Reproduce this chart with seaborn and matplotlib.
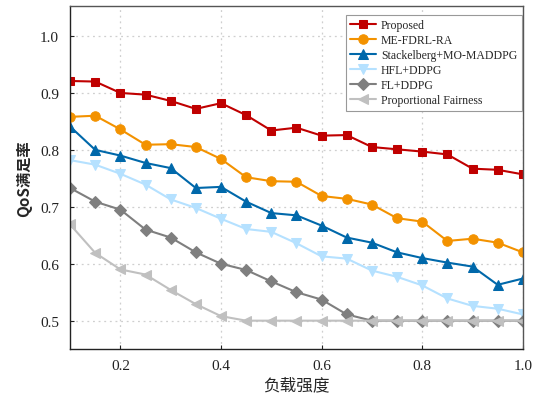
import numpy as np
import pandas as pd
import matplotlib
matplotlib.use("Agg")
import matplotlib.pyplot as plt
import seaborn as sns

load = [0.10, 0.15, 0.20, 0.25, 0.30, 0.35, 0.40, 0.45, 0.50, 0.55,
        0.60, 0.65, 0.70, 0.75, 0.80, 0.85, 0.90, 0.95, 1.00]

proposed = [0.921, 0.920, 0.900, 0.897, 0.886, 0.872, 0.882, 0.861, 0.834, 0.839,
            0.825, 0.826, 0.805, 0.801, 0.797, 0.792, 0.767, 0.765, 0.757]
me_fdrl = [0.858, 0.860, 0.836, 0.809, 0.810, 0.805, 0.784, 0.752, 0.745, 0.744,
           0.719, 0.714, 0.704, 0.680, 0.674, 0.640, 0.644, 0.637, 0.620]
stackelberg = [0.841, 0.800, 0.790, 0.777, 0.768, 0.733, 0.735, 0.709, 0.689, 0.685,
               0.667, 0.646, 0.637, 0.620, 0.610, 0.602, 0.595, 0.563, 0.574]
hfl = [0.782, 0.774, 0.758, 0.739, 0.713, 0.698, 0.679, 0.661, 0.656, 0.636,
       0.613, 0.609, 0.588, 0.577, 0.562, 0.539, 0.526, 0.521, 0.511]
fl = [0.733, 0.709, 0.695, 0.660, 0.646, 0.620, 0.600, 0.589, 0.569, 0.550,
      0.537, 0.511, 0.500, 0.500, 0.500, 0.500, 0.500, 0.500, 0.500]
pf = [0.669, 0.619, 0.590, 0.581, 0.554, 0.529, 0.508, 0.500, 0.500, 0.500,
      0.500, 0.500, 0.500, 0.500, 0.500, 0.500, 0.500, 0.500, 0.500]

names = ["Proposed", "ME-FDRL-RA", "Stackelberg+MO-MADDPG", "HFL+DDPG",
         "FL+DDPG", "Proportional Fairness"]
series = [proposed, me_fdrl, stackelberg, hfl, fl, pf]
colors = ["#C00000", "#F39200", "#0068AA", "#B5E1FF", "#7F7F7F", "#C0C0C0"]
markers = ["s", "o", "^", "v", "D", "<"]
msizes = [6.3, 6.8, 6.8, 6.8, 5.8, 6.8]

sns.set_style("ticks")
plt.rcParams['font.family'] = ['Liberation Serif', 'Noto Sans CJK SC']
plt.rcParams['mathtext.fontset'] = 'stix'

fig = plt.figure(figsize=(5.39, 4.02), dpi=100)
ax = fig.add_axes([0.130, 0.129, 0.840, 0.854])

for name, vals, c, m, ms in zip(names, series, colors, markers, msizes):
    df = pd.DataFrame({"load": load, "qos": vals})
    sns.lineplot(data=df, x="load", y="qos", ax=ax, color=c, marker=m,
                 markersize=ms, markeredgecolor=c, linewidth=1.5, label=name)

ax.set_xlim(0.1, 1.0)
ax.set_ylim(0.45, 1.053)
ax.set_xticks([0.2, 0.4, 0.6, 0.8, 1.0])
ax.set_yticks([0.5, 0.6, 0.7, 0.8, 0.9, 1.0])
ax.set_xticklabels(["0.2", "0.4", "0.6", "0.8", "1.0"])
ax.set_yticklabels(["0.5", "0.6", "0.7", "0.8", "0.9", "1.0"])
ax.tick_params(direction="in", length=3, width=0.8, labelsize=11, colors="#222222")
ax.tick_params(axis="x", pad=7)
ax.tick_params(axis="y", pad=8)
ax.grid(True, linestyle=(0, (1.5, 3)), color="#CFCFCF", linewidth=0.9)
for s in ax.spines.values():
    s.set_color("#222222")
    s.set_linewidth(1.0)
ax.spines["right"].set_color("#555555")
ax.spines["top"].set_color("#555555")

ax.set_xlabel("负载强度", fontsize=12, family=['Noto Sans CJK SC'], labelpad=3)
ax.set_ylabel("QoS满足率", fontsize=11, family=['Noto Sans CJK SC'],
              fontweight="bold", labelpad=6)

leg = ax.legend(loc="upper right", fontsize=8.5, frameon=True, fancybox=False,
                edgecolor="#999999", framealpha=1, borderpad=0.4,
                labelspacing=0.25, handlelength=2.2, handletextpad=0.4,
                borderaxespad=0, bbox_to_anchor=(0.998, 0.974))
leg.get_frame().set_linewidth(0.8)

fig.savefig("out.png", dpi=100)
